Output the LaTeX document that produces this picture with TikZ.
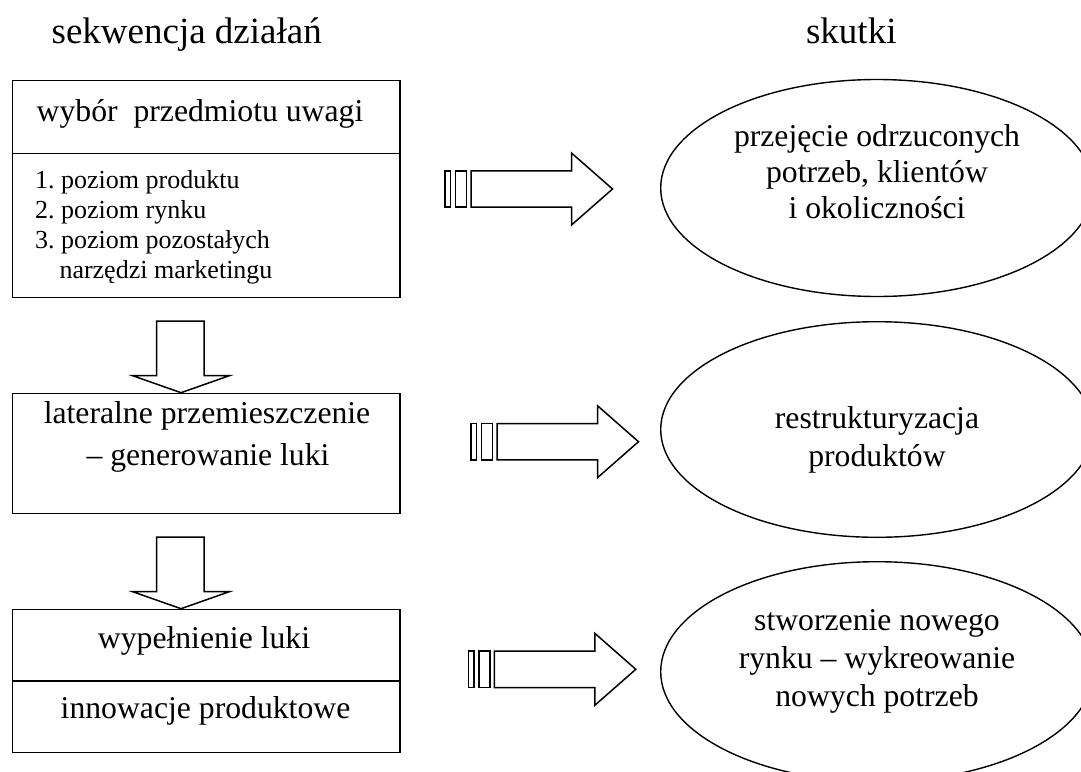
\documentclass[tikz,border=0pt]{standalone}
\usepackage{fontspec}
\setmainfont{Liberation Serif}
\usetikzlibrary{shapes.geometric}
\frenchspacing

\begin{document}
\begin{tikzpicture}[x=1pt,y=-1pt]
\tikzset{head/.style={font=\fontsize{37}{42}\selectfont, inner sep=0, anchor=base},
         txt/.style={font=\fontsize{31.7}{38.5}\selectfont, inner sep=0, anchor=base},
         item/.style={font=\fontsize{26}{30}\selectfont, inner sep=0, anchor=base west},
         blk/.style={draw, line width=1.5pt, line join=miter},
         stage/.style={blk, rectangle, minimum width=387.3pt, inner sep=0},
         effect/.style={draw, ellipse, line width=1.4pt, minimum width=432.6pt, minimum height=217pt, inner sep=0}}
\clip (0,0) rectangle (1081,771);

\node[head] (seq) at (186.7,43.3) {sekwencja działań};
\node[head] (res) at (851.3,43.3) {skutki};

\node[stage, minimum height=216.6pt] (sel) at (206.35,189) {};
\draw[blk] (sel.west |- 0,153.3) -- (sel.east |- 0,153.3);
\node[txt] (sel0) at (200,121.5) {wybór\ \ przedmiotu uwagi};
\node[item] (sel1) at (35,188.3) {1. poziom produktu};
\node[item] (sel2) at (35,218.3) {2. poziom rynku};
\node[item] (sel3) at (35,248.3) {3. poziom pozostałych};
\node[item] (sel4) at (59.3,278.3) {narzędzi marketingu};

\node[stage, minimum height=120pt] (gap) at (206.35,453.3) {};
\node[txt] (gap1) at (207,423.3) {lateralne przemieszczenie};
\node[txt] (gap2) at (208,465) {– generowanie luki};

\node[stage, minimum height=143.4pt] (fill) at (206.35,681) {};
\draw[blk] (fill.west) -- (fill.east);
\node[txt] (fill1) at (204,648.3) {wypełnienie luki};
\node[txt] (fill2) at (205.5,718.3) {innowacje produktowe};

\foreach \t in {321,537}
  \draw[blk] (156.7,\t) -- (204,\t) -- (204,\t+54.7) -- (229.3,\t+54.7) -- (181,\t+71.7)
             -- (132.7,\t+54.7) -- (156.7,\t+54.7) -- cycle;

\foreach \x/\y in {445/189, 471/441.7, 468.3/669.3} {
  \draw[blk] (\x,\y-18.2) rectangle ++(5.5,36.4);
  \draw[blk] (\x+10.5,\y-18.2) rectangle ++(11,36.4);
  \draw[blk] (\x+26,\y-18.2) -- (\x+126.5,\y-18.2) -- (\x+126.5,\y-36) -- (\x+167.5,\y)
             -- (\x+126.5,\y+36) -- (\x+126.5,\y+18.2) -- (\x+26,\y+18.2) -- cycle;
}

\node[effect] (e1) at (877,188) {};
\node[txt] (e1a) at (877,146.7) {przejęcie odrzuconych};
\node[txt] (e1b) at (877,182.5) {potrzeb, klientów};
\node[txt] (e1c) at (877,218.3) {i okoliczności};

\node[effect, minimum height=215.6pt] (e2) at (877,429.5) {};
\node[txt] (e2a) at (877,428) {restrukturyzacja};
\node[txt] (e2b) at (877,466.7) {produktów};

\node[effect, minimum height=220pt] (e3) at (877,671.7) {};
\node[txt] (e3a) at (877,630) {stworzenie nowego};
\node[txt] (e3b) at (877,668.3) {rynku – wykreowanie};
\node[txt] (e3c) at (877,706.7) {nowych potrzeb};
\end{tikzpicture}
\end{document}
